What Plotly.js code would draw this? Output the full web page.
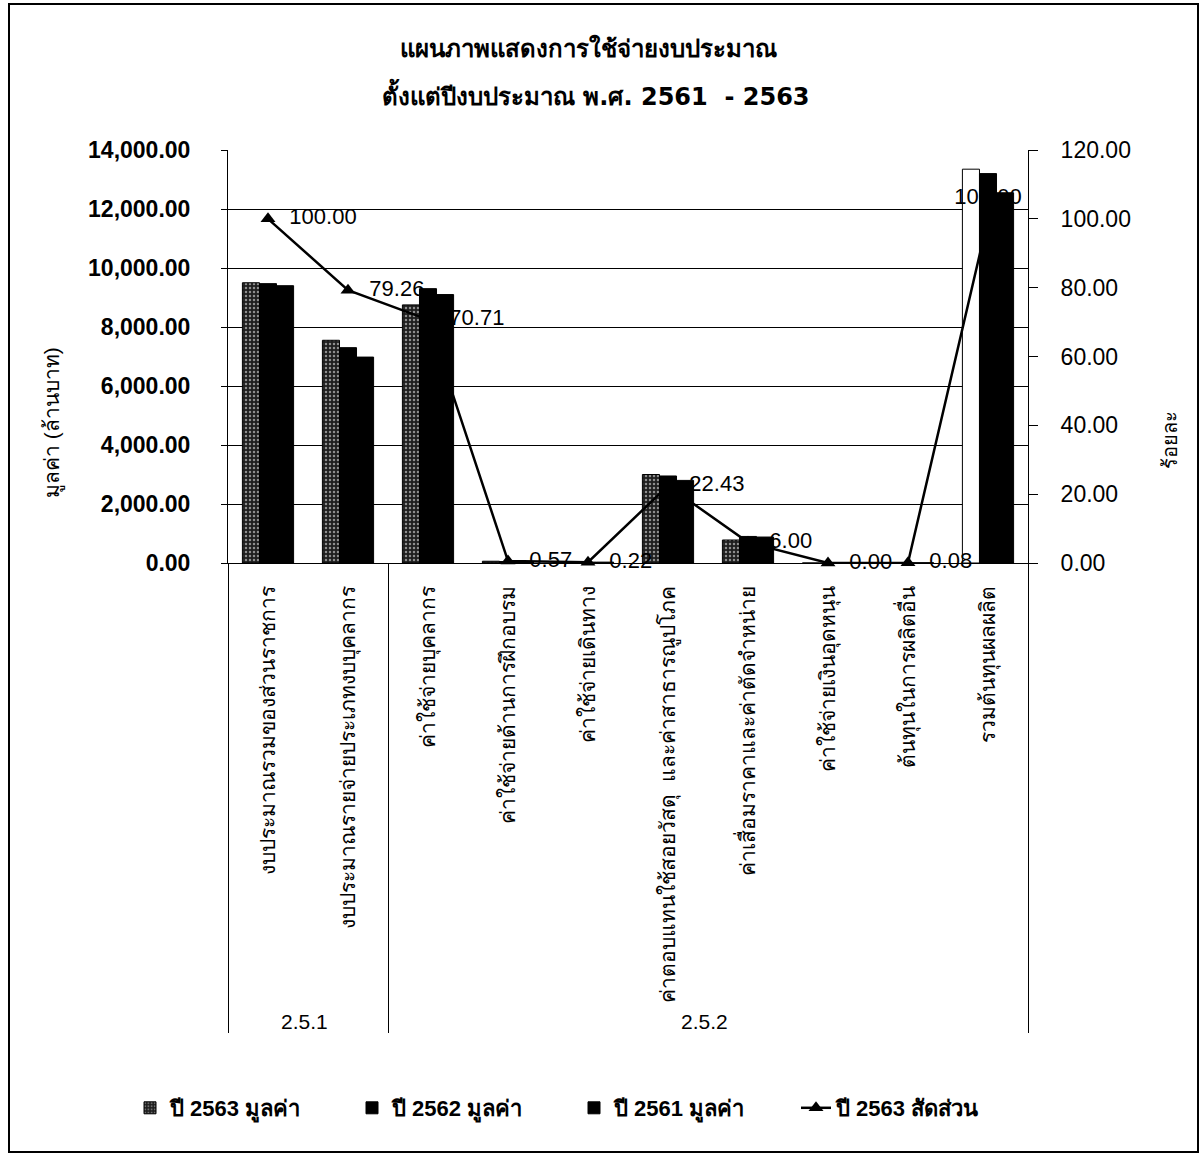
<!DOCTYPE html>
<html>
<head>
<meta charset="utf-8">
<script src="https://cdn.plot.ly/plotly-3.0.1.min.js"></script>
<style>
html,body{margin:0;padding:0;background:#fff;}
#chart{width:1204px;height:1157px;}
</style>
</head>
<body>
<div id="chart"></div>
<script>
// ---- data ----
const groups = ['2.5.1','2.5.1','2.5.2','2.5.2','2.5.2','2.5.2','2.5.2','2.5.2','2.5.2','2.5.2'];
const categories = [
  'งบประมาณรวมของส่วนราชการ',
  'งบประมาณรายจ่ายประเภทงบบุคลากร',
  'ค่าใช้จ่ายบุคลากร',
  'ค่าใช้จ่ายด้านการฝึกอบรม',
  'ค่าใช้จ่ายเดินทาง',
  'ค่าตอบแทนใช้สอยวัสดุ  และค่าสาธารณูปโภค',
  'ค่าเสื่อมราคาและค่าตัดจำหน่าย',
  'ค่าใช้จ่ายเงินอุดหนุน',
  'ต้นทุนในการผลิตอื่น',
  'รวมต้นทุนผลผลิต'
];
const value2563 = [9500, 7550, 8750, 60, 25, 3000, 780, 0, 10, 13350];
const value2562 = [9470, 7300, 9300, 50, 30, 2950, 900, 0, 10, 13200];
const value2561 = [9400, 6980, 9100, 45, 30, 2800, 880, 0, 10, 12550];
const ratio2563 = [100.00, 79.26, 70.71, 0.57, 0.22, 22.43, 6.00, 0.00, 0.08, 100.00];
const seriesNames = ['ปี 2563 มูลค่า', 'ปี 2562 มูลค่า', 'ปี 2561 มูลค่า', 'ปี 2563 สัดส่วน'];

const FONT = '"Liberation Sans", Arial, sans-serif';
const TFONT = 'Tahoma, "DejaVu Sans", sans-serif';
const x = [groups, categories];

// first series: stippled dark bars, last one appears white
const last = value2563.length - 1;
const bg2563 = value2563.map((v, i) => i === last ? '#ffffff' : '#1e1e1e');
const shape2563 = value2563.map((v, i) => i === last ? '' : '.');
const labelPos = ratio2563.map((v, i) => i === ratio2563.length - 1 ? 'top center' : 'middle right');
const labelTpl = ratio2563.map((v, i) => i === ratio2563.length - 1 ? '%{y:.2f}' : '\u00a0\u00a0%{y:.2f}');

const traces = [
  {type:'bar', name: seriesNames[0], x: x, y: value2563,
   marker:{color: bg2563, line:{color:'#000', width:1},
     pattern:{shape: shape2563, fillmode:'overlay', fgcolor:'#bdbdbd', size:4, solidity:0.3}}},
  {type:'bar', name: seriesNames[1], x: x, y: value2562,
   marker:{color:'#000', line:{color:'#000', width:1}}},
  {type:'bar', name: seriesNames[2], x: x, y: value2561,
   marker:{color:'#000', line:{color:'#000', width:1}}},
  {type:'scatter', mode:'lines+markers+text', name: seriesNames[3], x: x, y: ratio2563, yaxis:'y2',
   line:{color:'#000', width:2.5},
   marker:{symbol:'triangle-up', size:13, color:'#000'},
   texttemplate: labelTpl, textposition: labelPos,
   textfont:{family: FONT, size:22, color:'#000'}, cliponaxis:false}
];

const W = 800, H = 413; // plot area px
const px = v => (v - 228) / W;
const py = v => (563 - v) / H;

const layout = {
  width:1204, height:1157,
  margin:{l:228, r:176, t:150, b:594},
  paper_bgcolor:'#fff', plot_bgcolor:'#fff',
  font:{family: FONT, color:'#000'},
  barmode:'group', bargap:0.36, bargroupgap:0,
  showlegend:true,
  legend:{orientation:'h', x: px(130), xanchor:'left', y: py(1108), yanchor:'middle',
    font:{family: FONT, size:22, weight:'bold'}, itemwidth:30, traceorder:'normal',
    entrywidth:177, entrywidthmode:'pixels'},
  xaxis:{type:'multicategory', range:[-0.5, 9.5], showline:true, linecolor:'#000', linewidth:1,
    tickangle:-90, tickfont:{family: FONT, size:21}, ticklabelstandoff:14,
    showdividers:true, dividercolor:'#000', dividerwidth:1, ticks:'', showgrid:false},
  yaxis:{range:[0,14000], dtick:2000, tickformat:',.2f', showgrid:true, gridcolor:'#000', gridwidth:1,
    zeroline:false, showline:true, linecolor:'#000', linewidth:1, ticks:'outside', ticklen:6, tickcolor:'#000',
    ticklabelstandoff:26, tickfont:{family: FONT, size:23, weight:'bold'}},
  yaxis2:{overlaying:'y', side:'right', range:[0,120], dtick:20, tickformat:'.2f', showgrid:false,
    zeroline:false, showline:true, linecolor:'#000', linewidth:1, ticks:'outside', ticklen:9, tickcolor:'#000',
    ticklabelstandoff:18, tickfont:{family: FONT, size:23}},
  annotations:[
    {xref:'paper', yref:'paper', x: px(588), y: py(48), xanchor:'center', yanchor:'middle', showarrow:false,
     text:'<b>แผนภาพแสดงการใช้จ่ายงบประมาณ</b>', font:{family: TFONT, size:24}},
    {xref:'paper', yref:'paper', x: px(596), y: py(95), xanchor:'center', yanchor:'middle', showarrow:false,
     text:'<b>ตั้งแต่ปีงบประมาณ พ.ศ. 2561  - 2563</b>', font:{family: TFONT, size:24}},
    {xref:'paper', yref:'paper', x: px(52), y: py(423), xanchor:'center', yanchor:'middle', showarrow:false,
     textangle:-90, text:'มูลค่า (ล้านบาท)', font:{family: FONT, size:21}},
    {xref:'paper', yref:'paper', x: px(1170), y: py(440), xanchor:'center', yanchor:'middle', showarrow:false,
     textangle:-90, text:'ร้อยละ', font:{family: FONT, size:20}}
  ],
  shapes:[
    {type:'rect', xref:'paper', yref:'paper', x0: px(9), x1: px(1198), y0: py(1152), y1: py(4),
     line:{color:'#000', width:2}, fillcolor:'rgba(0,0,0,0)', layer:'below'}
  ]
};

Plotly.newPlot('chart', traces, layout, {displayModeBar:false, staticPlot:true});
</script>
</body>
</html>
